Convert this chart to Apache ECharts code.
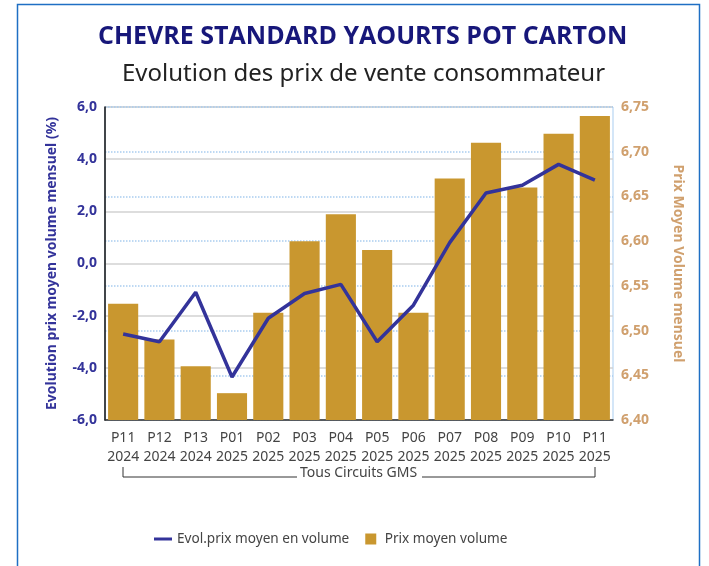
<!DOCTYPE html>
<html>
<head>
    <meta charset="utf-8">
    <title>Chevre standard yaourts pot carton</title>
    <script src="https://cdn.jsdelivr.net/npm/echarts@6/dist/echarts.min.js"></script>
    <style>
        html, body { margin: 0; padding: 0; background: #ffffff; }
        #chart { width: 709px; height: 566px; }
    </style>
</head>
<body>
<div id="chart"></div>
<script>
var periodes = ['P11\n2024', 'P12\n2024', 'P13\n2024', 'P01\n2025', 'P02\n2025', 'P03\n2025', 'P04\n2025',
    'P05\n2025', 'P06\n2025', 'P07\n2025', 'P08\n2025', 'P09\n2025', 'P10\n2025', 'P11\n2025'];
// prix moyen volume (axe droit)
var prixMoyen = [6.53, 6.49, 6.46, 6.43, 6.52, 6.60, 6.63, 6.59, 6.52, 6.67, 6.71, 6.66, 6.72, 6.74];
// evolution prix moyen volume mensuel en % (axe gauche)
var evolPrix = [-2.7, -3.0, -1.1, -4.35, -2.1, -1.15, -0.8, -3.0, -1.6, 0.8, 2.7, 3.0, 3.8, 3.2];

var navy = '#33339a';
var gold = '#c9972f';
var tan = '#d0a06e';
var font = 'Noto Sans';

var chart = echarts.init(document.getElementById('chart'));

var option = {
    animation: false,
    textStyle: { fontFamily: font },
    title: [
        {
            text: 'CHEVRE STANDARD YAOURTS POT CARTON',
            left: 93, top: 19,
            textStyle: { fontSize: 25, fontWeight: 'bold', color: '#17177a', fontFamily: 'Open Sans' }
        },
        {
            text: 'Evolution des prix de vente consommateur',
            left: 117, top: 57,
            textStyle: { fontSize: 24, fontWeight: 'normal', color: '#222222', fontFamily: font }
        }
    ],
    legend: {
        left: 149, top: 527,
        itemGap: 16,
        itemWidth: 18, itemHeight: 11,
        textStyle: { color: '#444444', fontSize: 13.6 },
        data: [
            { name: 'Evol.prix moyen en volume', icon: 'path://M0,4L18,4L18,7L0,7Z' },
            { name: 'Prix moyen volume', icon: 'path://M0,0L11,0L11,11L0,11Z', itemStyle: { color: gold } }
        ]
    },
    grid: {
        left: 105, right: 96, top: 107, bottom: 146,
        show: true, borderColor: '#a9cdf0', borderWidth: 1
    },
    xAxis: {
        type: 'category',
        data: periodes,
        axisLine: { onZero: false, lineStyle: { color: '#333333', width: 1.5 } },
        axisTick: { show: false },
        axisLabel: { color: '#444444', fontSize: 14, lineHeight: 19, margin: 9, interval: 0 }
    },
    yAxis: [
        {
            type: 'value',
            min: -6, max: 6, interval: 2,
            name: 'Evolution prix moyen volume mensuel (%)',
            nameLocation: 'middle', nameGap: 46,
            nameTextStyle: { color: navy, fontSize: 14, fontWeight: 'bold' },
            axisLine: { show: true, lineStyle: { color: '#111111', width: 1.5 } },
            axisTick: { show: false },
            axisLabel: {
                color: navy, fontSize: 14, fontWeight: 'bold', margin: 8,
                formatter: function (v) { return v.toFixed(1).replace('.', ','); }
            },
            splitLine: { lineStyle: { color: '#d2d2d2', width: 1.5 } }
        },
        {
            type: 'value',
            min: 6.40, max: 6.75, interval: 0.05,
            name: 'Prix Moyen Volume mensuel',
            nameLocation: 'middle', nameGap: 58, nameRotate: -90,
            nameTextStyle: { color: tan, fontSize: 14, fontWeight: 'bold' },
            axisLine: { show: false },
            axisTick: { show: false },
            axisLabel: {
                color: tan, fontSize: 14, fontWeight: 'bold', margin: 8,
                formatter: function (v) { return v.toFixed(2).replace('.', ','); }
            },
            splitLine: { lineStyle: { color: '#a9cdf0', type: 'dotted', width: 1.5 } }
        }
    ],
    series: [
        {
            name: 'Prix moyen volume',
            type: 'bar',
            yAxisIndex: 1,
            data: prixMoyen,
            barCategoryGap: '17%',
            itemStyle: { color: gold }
        },
        {
            name: 'Evol.prix moyen en volume',
            type: 'line',
            yAxisIndex: 0,
            data: evolPrix,
            symbol: 'none',
            lineStyle: { color: navy, width: 3.5 },
            itemStyle: { color: navy },
            z: 5
        }
    ],
    graphic: [
        {
            type: 'rect', silent: true,
            shape: { x: 17.5, y: 4.5, width: 682, height: 600 },
            style: { fill: 'none', stroke: '#1f6fc4', lineWidth: 1.5 }
        },
        {
            type: 'polyline', silent: true,
            shape: { points: [[123, 467], [123, 477], [297, 477]] },
            style: { stroke: '#333333', lineWidth: 1, fill: 'none' }
        },
        {
            type: 'polyline', silent: true,
            shape: { points: [[422, 477], [595, 477], [595, 467]] },
            style: { stroke: '#333333', lineWidth: 1, fill: 'none' }
        },
        {
            type: 'text', silent: true,
            left: 300, top: 466,
            style: { text: 'Tous Circuits GMS', fill: '#444444', fontSize: 14, fontFamily: font }
        }
    ]
};

chart.setOption(option);
</script>
</body>
</html>
